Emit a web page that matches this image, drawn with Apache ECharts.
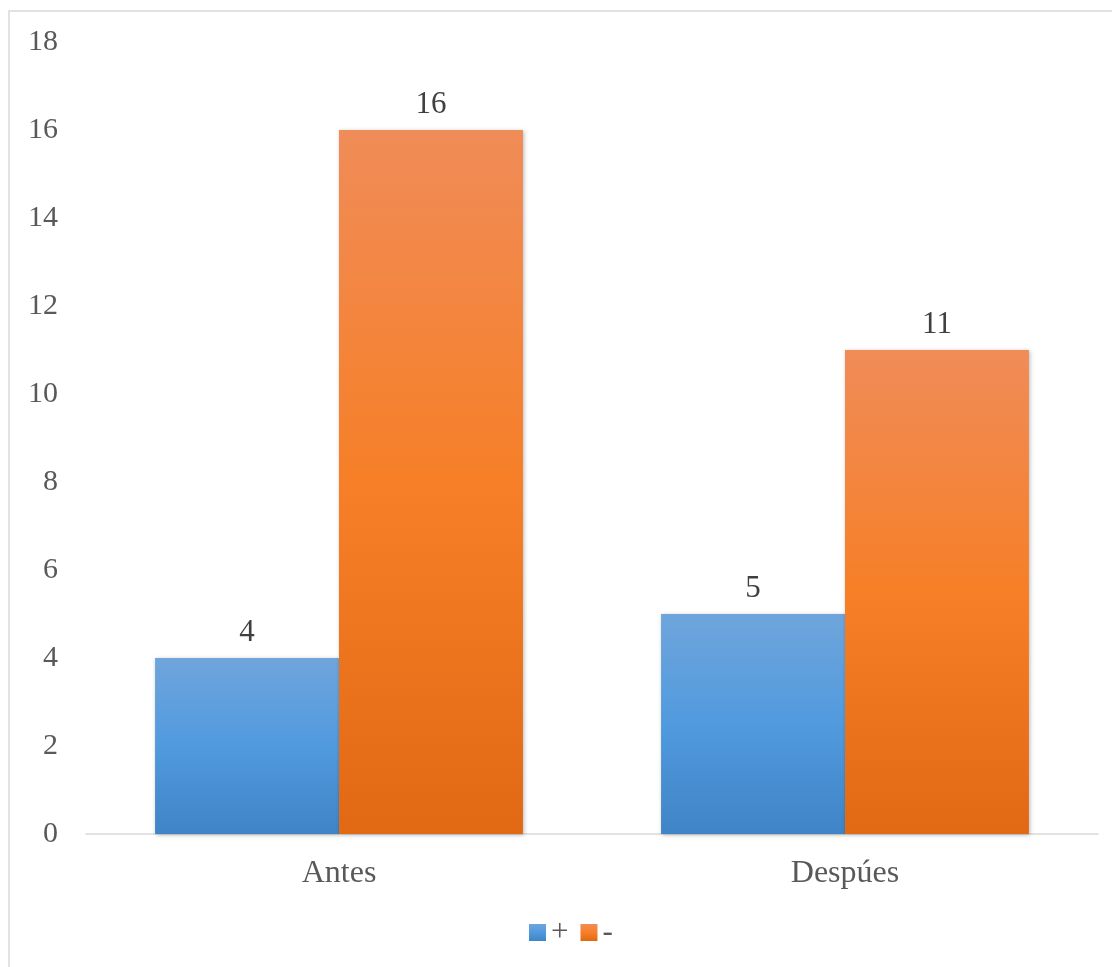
<!DOCTYPE html>
<html>
<head>
<meta charset="utf-8">
<script src="https://cdn.jsdelivr.net/npm/echarts@6/dist/echarts.min.js"></script>
<style>
  html, body { margin: 0; padding: 0; background: #fff; }
  #chart { width: 1112px; height: 967px; }
</style>
</head>
<body>
<div id="chart"></div>
<script>
// Category labels, series names and values
var categories = ['Antes', 'Despúes'];
var seriesNames = ['+', '-'];
var plusValues = [4, 5];
var minusValues = [16, 11];
var yTicks = { min: 0, max: 18, interval: 2 };

var font = '"Liberation Serif", "Times New Roman", serif';
var textColor = '#595959';

function grad(top, mid, bottom) {
  return new echarts.graphic.LinearGradient(0, 0, 0, 1, [
    { offset: 0, color: top },
    { offset: 0.5, color: mid },
    { offset: 1, color: bottom }
  ]);
}

var blueFill = grad('#6fa5dc', '#519ade', '#3f84c6');
var orangeFill = grad('#f08c58', '#f67f27', '#e26914');

function barSeries(name, values, fill) {
  return {
    name: name,
    type: 'bar',
    data: values,
    barGap: '0%',
    barCategoryGap: '27.3%',
    itemStyle: {
      color: fill,
      shadowColor: 'rgba(0,0,0,0.28)',
      shadowBlur: 4,
      shadowOffsetX: 1,
      shadowOffsetY: 1
    },
    label: {
      show: true,
      position: 'top',
      distance: 10,
      fontFamily: font,
      fontSize: 31,
      color: '#404040'
    }
  };
}

var chart = echarts.init(document.getElementById('chart'));
chart.setOption({
  animation: false,
  backgroundColor: '#fff',
  graphic: [{
    type: 'rect',
    shape: { x: 9, y: 11, width: 1130, height: 990 },
    style: { fill: 'none', stroke: '#d9d9d9', lineWidth: 1.5 },
    silent: true,
    z: -1
  }],
  grid: { left: 86, right: 14, top: 42, bottom: 133 },
  legend: {
    bottom: 14,
    left: 524,
    itemWidth: 17,
    itemHeight: 17,
    itemGap: 12,
    icon: 'rect',
    textStyle: { fontFamily: font, fontSize: 31, color: textColor },
    data: seriesNames
  },
  xAxis: {
    type: 'category',
    data: categories,
    axisLine: { show: true, lineStyle: { color: '#d9d9d9', width: 1.5 } },
    axisTick: { show: false },
    axisLabel: { fontFamily: font, fontSize: 32, color: textColor, margin: 24 }
  },
  yAxis: {
    type: 'value',
    min: yTicks.min,
    max: yTicks.max,
    interval: yTicks.interval,
    axisLine: { show: false },
    axisTick: { show: false },
    splitLine: { show: false },
    axisLabel: { fontFamily: font, fontSize: 30, color: textColor, margin: 28 }
  },
  series: [
    barSeries(seriesNames[0], plusValues, blueFill),
    barSeries(seriesNames[1], minusValues, orangeFill)
  ]
});
</script>
</body>
</html>
